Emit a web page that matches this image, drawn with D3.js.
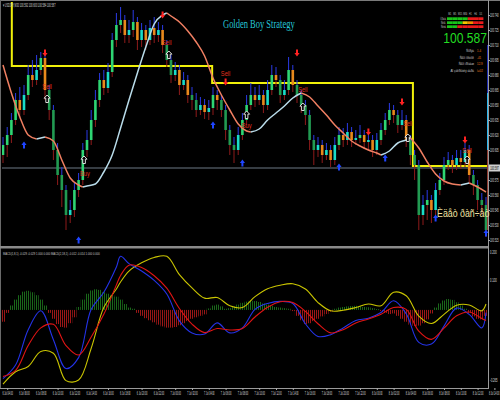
<!DOCTYPE html>
<meta charset="utf-8">
<script src="https://d3js.org/d3.v7.min.js"></script>
<style>
  body { margin: 0; background: #000; }
  svg { display: block; }
</style>
<div id="chart"></div>
<script>

// ---- price bars (M30) ----
const opens = [100.600,100.610,100.620,100.635,100.655,100.645,100.660,100.680,100.675,100.685,
  100.697,100.665,100.645,100.605,100.580,100.565,100.540,100.545,100.565,100.575,
  100.605,100.615,100.635,100.655,100.675,100.667,100.683,100.715,100.730,100.735,
  100.720,100.725,100.733,100.715,100.725,100.715,100.727,100.720,100.725,100.710,
  100.695,100.680,100.685,100.670,100.675,100.660,100.655,100.645,100.650,100.643,
  100.647,100.660,100.655,100.645,100.625,100.610,100.605,100.620,100.635,100.650,
  100.660,100.655,100.660,100.650,100.665,100.680,100.675,100.660,100.665,100.685,
  100.670,100.660,100.650,100.640,100.615,100.605,100.610,100.600,100.605,100.595,
  100.610,100.620,100.615,100.623,100.615,100.617,100.620,100.613,100.615,100.605,
  100.615,100.625,100.635,100.645,100.640,100.630,100.635,100.615,100.600,100.590,
  100.540,100.550,100.555,100.545,100.565,100.575,100.590,100.595,100.590,100.597,
  100.593,100.605,100.580,100.570,100.555,100.550];
const closes = [100.610,100.620,100.635,100.655,100.645,100.660,100.680,100.675,100.685,100.697,
  100.665,100.645,100.605,100.580,100.565,100.540,100.545,100.565,100.575,100.605,
  100.615,100.635,100.655,100.675,100.667,100.683,100.715,100.730,100.735,100.720,
  100.725,100.733,100.715,100.725,100.715,100.727,100.720,100.725,100.710,100.695,
  100.680,100.685,100.670,100.675,100.660,100.655,100.645,100.650,100.643,100.647,
  100.660,100.655,100.645,100.625,100.610,100.605,100.620,100.635,100.650,100.660,
  100.655,100.660,100.650,100.665,100.680,100.675,100.660,100.665,100.685,100.670,
  100.660,100.650,100.640,100.615,100.605,100.610,100.600,100.605,100.595,100.610,
  100.620,100.615,100.623,100.615,100.617,100.620,100.613,100.615,100.605,100.615,
  100.625,100.635,100.645,100.640,100.630,100.635,100.615,100.600,100.590,100.540,
  100.550,100.555,100.545,100.565,100.575,100.590,100.595,100.590,100.597,100.593,
  100.605,100.580,100.570,100.555,100.550,100.525];
const highs = [100.618,100.628,100.642,100.662,100.668,100.670,100.690,100.695,100.700,100.703,
  100.700,100.670,100.650,100.612,100.588,100.570,100.555,100.572,100.582,100.612,
  100.625,100.645,100.665,100.682,100.685,100.692,100.722,100.742,100.748,100.740,
  100.735,100.745,100.738,100.732,100.730,100.735,100.738,100.733,100.730,100.715,
  100.700,100.693,100.690,100.683,100.680,100.668,100.662,100.658,100.656,100.655,
  100.668,100.665,100.660,100.650,100.630,100.618,100.628,100.642,100.660,100.672,
  100.668,100.670,100.665,100.675,100.690,100.688,100.680,100.675,100.698,100.690,
  100.675,100.665,100.655,100.645,100.620,100.618,100.615,100.612,100.610,100.618,
  100.628,100.627,100.632,100.628,100.625,100.630,100.625,100.622,100.620,100.622,
  100.632,100.642,100.652,100.650,100.645,100.645,100.640,100.620,100.605,100.595,
  100.560,100.565,100.560,100.572,100.582,100.598,100.603,100.600,100.605,100.605,
  100.612,100.610,100.585,100.575,100.562,100.558];
const lows = [100.592,100.598,100.612,100.630,100.638,100.640,100.655,100.668,100.670,100.680,
  100.655,100.635,100.595,100.570,100.548,100.525,100.532,100.538,100.558,100.570,
  100.598,100.610,100.628,100.648,100.660,100.662,100.678,100.708,100.722,100.712,
  100.712,100.718,100.705,100.708,100.705,100.710,100.712,100.713,100.702,100.688,
  100.672,100.674,100.660,100.665,100.652,100.645,100.638,100.640,100.636,100.635,
  100.640,100.645,100.638,100.615,100.600,100.592,100.600,100.615,100.630,100.645,
  100.648,100.650,100.642,100.645,100.660,100.668,100.652,100.655,100.660,100.663,
  100.652,100.642,100.630,100.605,100.590,100.598,100.592,100.595,100.588,100.590,
  100.605,100.608,100.610,100.608,100.610,100.612,100.606,100.604,100.598,100.600,
  100.610,100.620,100.630,100.632,100.622,100.625,100.608,100.590,100.575,100.525,
  100.530,100.535,100.532,100.540,100.560,100.570,100.585,100.582,100.585,100.586,
  100.588,100.572,100.560,100.545,100.540,100.518];

// smoothed moving average (bar index, price)
const maIdx = [0,2,4,6,8,10,12,14,16,18,19,20,22,24,26,28,30,32,34,36,38,39,40,42,44,46,48,50,52,54,56,58,59,
  61,63,65,67,69,71,73,75,77,79,81,83,85,87,89,90,92,94,96,97,99,101,103,105,107,109,110,111,113,115];
const maVals = [100.690,100.662,100.638,100.620,100.616,100.618,100.614,100.595,100.577,100.570,100.568,100.569,
  100.571,100.583,100.600,100.627,100.655,100.682,100.708,100.731,100.740,100.742,100.739,100.733,100.724,
  100.713,100.699,100.677,100.660,100.645,100.631,100.624,100.623,100.626,100.635,100.642,100.649,100.657,
  100.662,100.658,100.649,100.640,100.630,100.622,100.614,100.609,100.605,100.602,100.600,100.604,100.612,
  100.615,100.617,100.607,100.593,100.581,100.574,100.571,100.570,100.571,100.572,100.568,100.563];

// yellow level steps
const levelIdx = [-2, 2.1, 49.8, 97.6, 116];
const levelVals = [100.800, 100.689, 100.672, 100.589, 100.589];

const bidPrice = 100.587;
const priceTicks = [100.740,100.725,100.710,100.695,100.680,100.665,100.650,100.635,100.620,100.605,
  100.575,100.560,100.545,100.530,100.515];

// signals: [bar index, price]
const sellArrows = [[10,100.702],[38,100.740],[53,100.673],[70,100.702],[87,100.623],[95,100.653],[110,100.615]];
const buyArrows = [[5,100.610],[18,100.515],[50,100.630],[57,100.592],[80,100.588],[91,100.597],[103,100.537],[115,100.522]];
const sellLabels = [[10.5,100.669],[39,100.713],[53,100.682],[71.4,100.666],[96.4,100.632],[110.5,100.605]];
const buyLabels = [[19.5,100.582],[58,100.630]];
const exitMarks = [[10.5,100.656],[19.3,100.595],[39.5,100.700],[58,100.640],[71.4,100.648],[96.4,100.617],[110.5,100.595]];
const rangeBar = [100.710, 100.662, 100.605, 100.525];

const dateLabels = ["6 Jul 04:00","6 Jul 06:00","6 Jul 08:00","6 Jul 10:00","6 Jul 12:00","6 Jul 14:00",
  "6 Jul 16:00","6 Jul 18:00","6 Jul 20:00","6 Jul 22:00","7 Jul 00:00","7 Jul 02:00","7 Jul 04:00",
  "7 Jul 06:00","7 Jul 08:00","7 Jul 10:00","7 Jul 12:00","7 Jul 14:00","7 Jul 16:00","7 Jul 18:00",
  "7 Jul 20:00","7 Jul 22:00","8 Jul 00:00","8 Jul 02:00","8 Jul 04:00","8 Jul 06:00","8 Jul 08:00",
  "8 Jul 10:00","8 Jul 12:00","8 Jul 14:00"];

// ---- MACD sub window ----
const macdIdx = [0,3,6,9,12,15,18,21,24,27,28,30,33,36,39,42,45,48,51,54,57,60,63,66,69,72,75,78,81,84,87,90,93,96,99,102,105,108,111,114,115];
const macdBlue = [-0.233,-0.187,-0.067,-0.003,-0.101,-0.199,-0.162,0.002,0.060,0.146,0.182,0.157,0.132,0.100,0.054,
  -0.037,-0.078,-0.082,-0.044,-0.078,-0.061,0.002,0.022,0.029,0.022,-0.047,-0.090,-0.084,-0.061,-0.036,-0.028,
  -0.009,0.031,-0.013,-0.110,-0.116,-0.055,0.006,-0.015,-0.061,-0.009];
const macdRed = [-0.226,-0.205,-0.121,-0.061,-0.049,-0.121,-0.153,-0.092,-0.015,0.085,0.117,0.152,0.144,0.116,0.074,
  0.005,-0.048,-0.077,-0.063,-0.068,-0.063,-0.024,0.009,0.028,0.025,-0.005,-0.047,-0.078,-0.067,-0.044,-0.031,
  -0.015,0.008,0.002,-0.072,-0.100,-0.062,-0.020,-0.007,-0.029,-0.036];
const macdYellow = [-0.252,-0.210,-0.192,-0.141,-0.147,-0.240,-0.238,-0.130,0.008,0.071,0.095,0.132,0.160,0.178,0.182,
  0.120,0.075,0.040,0.042,0.014,0.008,0.045,0.072,0.084,0.089,0.071,0.025,-0.003,-0.001,0.008,0.020,
  0.014,0.060,0.048,-0.021,-0.046,-0.015,0.016,0.017,-0.003,0.020];
const macdHist = [-0.040,-0.010,0.015,0.035,0.050,0.062,0.065,0.060,0.050,0.035,
  0.015,-0.010,-0.030,-0.048,-0.058,-0.060,-0.045,-0.025,0.010,0.035,
  0.055,0.066,0.070,0.068,0.060,0.055,0.050,0.045,0.035,0.020,
  0.008,0.004,-0.010,-0.020,-0.028,-0.035,-0.042,-0.050,-0.056,-0.060,
  -0.060,-0.058,-0.052,-0.045,-0.038,-0.030,-0.025,-0.020,-0.015,0.005,
  0.015,0.018,0.012,0.004,0.006,0.012,0.018,0.024,0.028,0.031,
  0.030,0.027,0.022,0.018,0.014,0.010,0.008,0.006,0.004,-0.004,
  -0.020,-0.035,-0.048,-0.045,-0.038,-0.030,-0.022,-0.014,-0.006,0.004,
  0.008,0.010,0.012,0.013,0.014,0.012,0.010,0.009,0.006,0.003,
  -0.004,-0.010,-0.014,-0.012,-0.020,-0.030,-0.040,-0.050,-0.055,-0.053,
  -0.045,-0.032,-0.012,0.008,0.022,0.032,0.037,0.034,0.026,0.015,
  0.004,-0.010,-0.022,-0.030,-0.032,-0.020];
const macdTicks = [0.2, 0.1, -0.265];

// ---- info panel ----
const tfNames = ["M1","M5","M15","M30","H1","H4","D1"];
const panelRows = ["Òðåíä","Ñèãí.","Ñèëà"];
const panelStates = [["u","u","u","u","d","d","d"],["u","u","u","n","w","d","d"],["u","u","d","d","d","d","d"]];
const infoLabels = ["Ñïðýä","Ñâîï ïîêóïîê","Ñâîï ïðîäàæ","Äî çàêðûòèÿ áàðà"];
const infoValues = ["1.4","-41","12.9","ì=02"];

const FONT = "Liberation Sans, Arial, sans-serif";
const W = 500, H = 400;

const svg = d3.select("#chart").append("svg")
  .attr("width", W).attr("height", H)
  .style("background", "#000");

// text squeezed sideways (the screenshot is narrower than tall)
function ctext(parent, px, py, str, size, sx, fill, anchor, family) {
  return parent.append("g")
    .attr("transform", "translate(" + px + "," + py + ") scale(" + sx + ",1)")
    .append("text")
    .attr("text-anchor", anchor || "start")
    .attr("font-family", family || FONT)
    .attr("font-size", size)
    .attr("fill", fill)
    .text(str);
}

const defs = svg.append("defs");
defs.append("clipPath").attr("id", "clipMain")
  .append("rect").attr("x", 2).attr("y", 2).attr("width", 486).attr("height", 244);
defs.append("clipPath").attr("id", "clipInd")
  .append("rect").attr("x", 2).attr("y", 249).attr("width", 486).attr("height", 139);
[["hatchG", "#1a691a"], ["hatchR", "#9c1717"]].forEach(function(p) {
  const pat = defs.append("pattern").attr("id", p[0])
    .attr("patternUnits", "userSpaceOnUse").attr("width", 2).attr("height", 2);
  pat.append("rect").attr("width", 1).attr("height", 2).attr("fill", p[1]);
});

// scales
const x = d3.scaleLinear().domain([0, 115]).range([3, 486]);
const yP = d3.scaleLinear().domain([100.509, 100.753]).range([246, 2]);
const yI = d3.scaleLinear().domain([-0.265, 0.2]).range([388, 251]);

// frame
svg.append("line").attr("x1", 0).attr("x2", 500).attr("y1", 0.5).attr("y2", 0.5).attr("stroke", "#7a7a7a");
svg.append("line").attr("x1", 0.5).attr("x2", 0.5).attr("y1", 0).attr("y2", 388).attr("stroke", "#6a6a6a");
svg.append("rect").attr("x", 0).attr("y", 246).attr("width", 488).attr("height", 2.5).attr("fill", "#8a8a8a");
svg.append("line").attr("x1", 488.5).attr("x2", 488.5).attr("y1", 0).attr("y2", 389).attr("stroke", "#9a9a9a");
svg.append("line").attr("x1", 0).attr("x2", 489).attr("y1", 388.5).attr("y2", 388.5).attr("stroke", "#9a9a9a");

const main = svg.append("g").attr("clip-path", "url(#clipMain)");

// bid line
main.append("line")
  .attr("x1", 0).attr("x2", 488)
  .attr("y1", yP(bidPrice)).attr("y2", yP(bidPrice))
  .attr("stroke", "#6d7985").attr("stroke-width", 1);

// yellow level
main.append("path")
  .datum(levelIdx.map(function(d, i) { return [d, levelVals[i]]; }))
  .attr("fill", "none").attr("stroke", "#f0f00a").attr("stroke-width", 2)
  .attr("d", d3.line().curve(d3.curveStepAfter)
    .x(function(d) { return x(d[0]); }).y(function(d) { return yP(d[1]); }));

// candles
const bars = opens.map(function(o, i) {
  return { i: i, o: o, c: closes[i], h: highs[i], l: lows[i] };
});
const cg = main.append("g");
bars.forEach(function(b) {
  const up = b.c >= b.o;
  const prev = b.i > 0 ? bars[b.i - 1] : b;
  const prevUp = prev.c >= prev.o;
  const top = Math.max(b.o, b.c), bot = Math.min(b.o, b.c);
  const cx = x(b.i);
  cg.append("line").attr("x1", cx).attr("x2", cx)
    .attr("y1", yP(b.h)).attr("y2", yP(top))
    .attr("stroke", "#2b3be6").attr("stroke-width", 1);
  cg.append("line").attr("x1", cx).attr("x2", cx)
    .attr("y1", yP(bot)).attr("y2", yP(b.l))
    .attr("stroke", "#8e1b1b").attr("stroke-width", 1);
  let fill;
  if (up) fill = prevUp ? "#2ed573" : "#19dcc8";
  else fill = prevUp ? "#e8891c" : "#229a52";
  cg.append("rect")
    .attr("x", cx - 1.3).attr("width", 2.6)
    .attr("y", yP(top)).attr("height", Math.max(1, yP(bot) - yP(top)))
    .attr("fill", fill);
});

// tall range bar at last candle
const rbx = x(115) + 1;
const rbColors = ["#1c2ab0", "#2cb8f0", "#8f3b30"];
for (let k = 0; k < 3; k++) {
  main.append("rect").attr("x", rbx).attr("width", 1.6)
    .attr("y", yP(rangeBar[k])).attr("height", yP(rangeBar[k + 1]) - yP(rangeBar[k]))
    .attr("fill", rbColors[k]);
}

// moving average, colour by slope
const maPts = maIdx.map(function(d, i) { return [d, maVals[i]]; });
const runs = [];
let cur = [maPts[0]], dir = null;
for (let i = 1; i < maPts.length; i++) {
  const up = maPts[i][1] > maPts[i - 1][1];
  if (dir === null || up === dir) { cur.push(maPts[i]); dir = up; }
  else { runs.push({ up: dir, pts: cur }); cur = [maPts[i - 1], maPts[i]]; dir = up; }
}
runs.push({ up: dir, pts: cur });
const maLine = d3.line().curve(d3.curveMonotoneX)
  .x(function(d) { return x(d[0]); }).y(function(d) { return yP(d[1]); });
runs.forEach(function(r) {
  main.append("path").datum(r.pts)
    .attr("fill", "none")
    .attr("stroke", r.up ? "#b9dcea" : "#f07f62")
    .attr("stroke-width", 1.5)
    .attr("d", maLine);
});

// signal markers
const downArrow = "M0,3.5 L2.6,0 L1,0 L1,-3.5 L-1,-3.5 L-1,0 L-2.6,0 Z";
const upArrow = "M0,-3.5 L2.6,0 L1,0 L1,3.5 L-1,3.5 L-1,0 L-2.6,0 Z";
const hollowUp = "M0,-4 L3,-0.8 L1.3,-0.8 L1.3,3.5 L-1.3,3.5 L-1.3,-0.8 L-3,-0.8 Z";

main.selectAll(".sellA").data(sellArrows).enter().append("path")
  .attr("transform", function(d) { return "translate(" + x(d[0]) + "," + yP(d[1]) + ")"; })
  .attr("d", downArrow).attr("fill", "#ff2222");
main.selectAll(".buyA").data(buyArrows).enter().append("path")
  .attr("transform", function(d) { return "translate(" + x(d[0]) + "," + yP(d[1]) + ")"; })
  .attr("d", upArrow).attr("fill", "#1f45ff");
main.selectAll(".exitM").data(exitMarks).enter().append("path")
  .attr("transform", function(d) { return "translate(" + x(d[0]) + "," + yP(d[1]) + ")"; })
  .attr("d", hollowUp).attr("fill", "#000").attr("stroke", "#f0f0f0").attr("stroke-width", 0.9);
sellLabels.forEach(function(d) {
  ctext(main, x(d[0]), yP(d[1]) + 2.7, "Sell", 7.6, 0.75, "#e2301f", "middle");
});
buyLabels.forEach(function(d) {
  ctext(main, x(d[0]), yP(d[1]) + 2.7, "Buy", 7.6, 0.75, "#e2301f", "middle");
});

// texts in main window
ctext(svg, 3, 7, "▾ USDJPY,M30 100.592 100.600 100.584 100.587", 5, 0.47, "#d0d0d0");
ctext(svg, 223, 28, "Golden Boy Strategy", 12.5, 0.68, "#25c6d6", "start",
  "Liberation Serif, DejaVu Serif, serif");
ctext(svg, 437, 217, "Èäåò ðàñ÷åò", 10.5, 0.84, "#f0e2a2");

// info panel
const stateCol = { u: "#19c419", d: "#e81a1a", n: "#f5c400", w: "#f08a00" };
tfNames.forEach(function(t, j) {
  ctext(svg, 449.6 + j * 5.2, 14.5, t, 3, 0.7, "#c8c8c8", "middle");
});
panelStates.forEach(function(row, r) {
  ctext(svg, 446, 19.6 + r * 4, panelRows[r], 3, 0.7, "#c8c8c8", "end");
  row.forEach(function(s, j) {
    svg.append("rect").attr("x", 447 + j * 5.2).attr("y", 17.3 + r * 4)
      .attr("width", 5.2).attr("height", 2.7).attr("fill", stateCol[s]);
  });
});
ctext(svg, 487, 42.5, bidPrice.toFixed(3), 15.5, 0.78, "#22dd22", "end");
infoLabels.forEach(function(t, k) {
  const yy = 52 + k * 6.5;
  ctext(svg, 474, yy, t, 4.2, 0.7, "#c8c8c8", "end");
  ctext(svg, 477, yy, infoValues[k], 4.2, 0.7, "#e8781e");
});

// price axis
const SX_AX = 0.52;
const pAxis = svg.append("g").attr("transform", "translate(488,0)")
  .call(d3.axisRight(yP).tickValues(priceTicks).tickFormat(d3.format(".3f")).tickSize(2));
pAxis.select(".domain").remove();
pAxis.selectAll("line").attr("stroke", "#aaa");
pAxis.selectAll("text").attr("fill", "#dddddd").attr("font-size", 4.6).attr("font-family", FONT)
  .attr("x", 2 / SX_AX).attr("transform", "scale(" + SX_AX + ",1)");

// bid label
svg.append("rect").attr("x", 489).attr("y", yP(bidPrice) - 3.5)
  .attr("width", 11).attr("height", 7).attr("fill", "#d0d0d0");
ctext(svg, 490.2, yP(bidPrice) + 1.7, bidPrice.toFixed(3), 4.6, SX_AX, "#000");

// ---- MACD window ----
const ind = svg.append("g").attr("clip-path", "url(#clipInd)");
ind.selectAll(".hist").data(macdHist).enter().append("rect")
  .attr("x", function(d, i) { return x(i) - 2.1; })
  .attr("width", 4.2)
  .attr("y", function(d) { return Math.min(yI(0), yI(d)); })
  .attr("height", function(d) { return Math.abs(yI(d) - yI(0)); })
  .attr("fill", function(d) { return d >= 0 ? "url(#hatchG)" : "url(#hatchR)"; });

const mline = d3.line().curve(d3.curveCatmullRom)
  .x(function(d) { return x(d[0]); }).y(function(d) { return yI(d[1]); });
[[macdYellow, "#c9c400"], [macdBlue, "#2433e8"], [macdRed, "#e01414"]].forEach(function(s) {
  ind.append("path")
    .datum(macdIdx.map(function(d, i) { return [d, s[0][i]]; }))
    .attr("fill", "none").attr("stroke", s[1]).attr("stroke-width", 1.1)
    .attr("d", mline);
});

ctext(svg, 3, 254.5, "MACD(1,8,1) -0.029 -0.029 1.000 0.000 MACD(2,18,1) -0.012 -0.014 1.000 0.000",
  4.2, 0.64, "#c8c8c8");

macdTicks.forEach(function(v, k) {
  const off = k === 0 ? 3 : (k === 2 ? -6 : 1.8);
  ctext(svg, 490, yI(v) + off, v.toFixed(3), 4.6, 0.58, "#dddddd");
});

// date axis
const SX_DT = 0.47;
const dateIdx = dateLabels.map(function(d, i) { return 1 + i * 4; });
const dAxis = svg.append("g").attr("transform", "translate(0,388)")
  .call(d3.axisBottom(x).tickValues(dateIdx)
    .tickFormat(function(d, i) { return dateLabels[i]; }).tickSize(2));
dAxis.select(".domain").remove();
dAxis.selectAll("line").attr("stroke", "#aaa");
dAxis.selectAll("text").attr("fill", "#dddddd").attr("font-size", 4.6).attr("font-family", FONT)
  .attr("y", 3.5).attr("transform", "scale(" + SX_DT + ",1)");
dAxis.selectAll(".tick").filter(function(d) { return x(d) > 492; })
  .select("text").attr("text-anchor", "end")
  .attr("x", function(d) { return (499 - x(d)) / SX_DT; });

</script>
